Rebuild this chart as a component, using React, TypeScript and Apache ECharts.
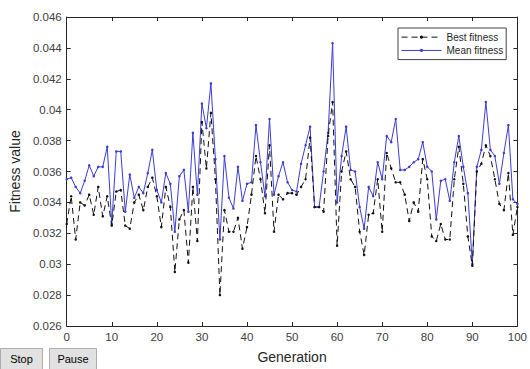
import React, { useEffect, useRef } from "react";
import * as echarts from "echarts";

const bestFitness = [
  0.0326, 0.0344, 0.0316, 0.034, 0.0338, 0.0345, 0.0332, 0.035, 0.0331, 0.0344,
  0.0325, 0.0347, 0.0348, 0.0325, 0.0323, 0.034, 0.0345, 0.0335, 0.035, 0.0356,
  0.0344, 0.0324, 0.035, 0.0337, 0.0295, 0.0329, 0.0335, 0.0301, 0.035, 0.0315,
  0.0392, 0.0362, 0.0398, 0.0355, 0.028, 0.0335, 0.0321, 0.0321, 0.033, 0.031,
  0.0324, 0.0345, 0.037, 0.0355, 0.0333, 0.0377, 0.0321, 0.0345, 0.0342, 0.0346,
  0.0346, 0.0345, 0.035, 0.0355, 0.0382, 0.0337, 0.0337, 0.0334, 0.0383, 0.0405,
  0.0312, 0.036, 0.0373, 0.0355, 0.035, 0.0321, 0.0306, 0.0332, 0.0333, 0.0355,
  0.0321, 0.0372, 0.0362, 0.0353, 0.0353, 0.0345, 0.0328, 0.034, 0.0334, 0.0368,
  0.0355, 0.0318, 0.0315, 0.0326, 0.0316, 0.0316, 0.0355, 0.0376, 0.0352, 0.0318,
  0.0299, 0.036, 0.0365, 0.0377, 0.037, 0.0355, 0.0339, 0.0335, 0.0359, 0.0319, 0.0337,
];

const meanFitness = [
  0.0355, 0.0356, 0.035, 0.0346, 0.0354, 0.0364, 0.0357, 0.0363, 0.0363, 0.0376,
  0.0326, 0.0373, 0.0373, 0.0334, 0.0358, 0.0343, 0.035, 0.0346, 0.0359, 0.0374,
  0.0348, 0.034, 0.0359, 0.0352, 0.0321, 0.0357, 0.0361, 0.0334, 0.0385, 0.0345,
  0.0404, 0.0388, 0.0417, 0.0368, 0.0316, 0.037, 0.0343, 0.0336, 0.0363, 0.0341,
  0.0352, 0.0353, 0.039, 0.0366, 0.0344, 0.0394, 0.0345, 0.0357, 0.0366, 0.0353,
  0.0348, 0.0347, 0.0365, 0.0377, 0.0389, 0.0337, 0.0337, 0.036, 0.0385, 0.0443,
  0.034, 0.037, 0.0389, 0.0361, 0.036, 0.0337, 0.0323, 0.035, 0.0344, 0.0366,
  0.0355, 0.0383, 0.0379, 0.0394, 0.0361, 0.0361, 0.0363, 0.0366, 0.0368, 0.0379,
  0.0363, 0.036, 0.0329, 0.0354, 0.0355, 0.0341, 0.0366, 0.0383, 0.0363, 0.0346,
  0.03, 0.0363, 0.0374, 0.0405, 0.0374, 0.037, 0.0352, 0.0372, 0.039, 0.0342, 0.0339,
];

const generations = bestFitness.map((_, i) => i);

const seriesNames = ["Best fitness", "Mean fitness"];
const xTitle = "Generation";
const yTitle = "Fitness value";
const buttonLabels = ["Stop", "Pause"];

const FONT = "'Liberation Sans', Arial, sans-serif";
const AXIS = "#262626";
const TICKTEXT = "#404040";
const BLUE = "#3c3cd2";

export default function App() {
  const ref = useRef<HTMLDivElement>(null);

  useEffect(() => {
    if (!ref.current) return;
    const chart = echarts.init(ref.current, null, { renderer: "svg" });

    const fmtY = (v: number) => String(parseFloat(v.toFixed(3)));

    const baseX = {
      type: "value",
      min: 0,
      max: 100,
      interval: 10,
      splitLine: { show: false },
      axisLine: { show: true, onZero: false, lineStyle: { color: AXIS, width: 1 } },
      axisTick: { show: true, inside: true, length: 4, lineStyle: { color: AXIS } },
    };
    const baseY = {
      type: "value",
      min: 0.026,
      max: 0.046,
      interval: 0.002,
      splitLine: { show: false },
      axisLine: { show: true, onZero: false, lineStyle: { color: AXIS, width: 1 } },
      axisTick: { show: true, inside: true, length: 4, lineStyle: { color: AXIS } },
    };

    const button = (x: number, w: number, label: string) => ({
      type: "group",
      left: x,
      top: 348,
      children: [
        {
          type: "rect",
          shape: { x: 0, y: 0, width: w, height: 21 },
          style: { fill: "#e1e1e1", stroke: "#adadad", lineWidth: 1 },
        },
        {
          type: "text",
          x: w / 2,
          y: 10.5,
          style: {
            text: label,
            fill: "#000",
            font: `11px ${FONT}`,
            align: "center",
            verticalAlign: "middle",
          },
        },
      ],
    });

    chart.setOption({
      animation: false,
      backgroundColor: "#fff",
      grid: { left: 65, right: 11, top: 17, bottom: 42, containLabel: false },
      xAxis: [
        {
          ...baseX,
          position: "bottom",
          name: xTitle,
          nameLocation: "middle",
          nameGap: 24,
          nameTextStyle: { fontFamily: FONT, fontSize: 14, color: AXIS },
          axisLabel: { fontFamily: FONT, fontSize: 11.5, color: TICKTEXT, margin: 5 },
        },
        { ...baseX, position: "top", axisLabel: { show: false } },
      ],
      yAxis: [
        {
          ...baseY,
          position: "left",
          name: yTitle,
          nameLocation: "middle",
          nameGap: 40,
          nameTextStyle: { fontFamily: FONT, fontSize: 14, color: AXIS },
          axisLabel: { fontFamily: FONT, fontSize: 11.5, color: TICKTEXT, margin: 5, formatter: fmtY },
        },
        { ...baseY, position: "right", axisLabel: { show: false } },
      ],
      legend: {
        orient: "vertical",
        left: 398,
        top: 28,
        padding: [3, 3, 3, 3],
        itemWidth: 40,
        itemHeight: 4,
        itemGap: 1,
        backgroundColor: "#fff",
        borderColor: "#444",
        borderWidth: 1,
        borderRadius: 0,
        lineStyle: { width: 1 },
        itemStyle: { borderWidth: 0 },
        textStyle: { fontFamily: FONT, fontSize: 10, color: AXIS, lineHeight: 12.3 },
        data: seriesNames,
      },
      series: [
        {
          name: seriesNames[0],
          type: "line",
          data: generations.map((g, i) => [g, bestFitness[i]]),
          symbol: "circle",
          symbolSize: 2.5,
          showSymbol: true,
          lineStyle: { color: "#111", width: 1, type: [6, 4] },
          itemStyle: { color: "#111" },
          z: 3,
        },
        {
          name: seriesNames[1],
          type: "line",
          data: generations.map((g, i) => [g, meanFitness[i]]),
          symbol: "circle",
          symbolSize: 2.5,
          showSymbol: true,
          lineStyle: { color: BLUE, width: 1 },
          itemStyle: { color: BLUE },
          z: 2,
        },
      ],
      graphic: [button(0, 42, buttonLabels[0]), button(49, 47, buttonLabels[1])],
    });

    return () => chart.dispose();
  }, []);

  return (
    <div
      ref={ref}
      style={{ position: "fixed", left: 0, top: 0, width: 530, height: 369 }}
    />
  );
}
